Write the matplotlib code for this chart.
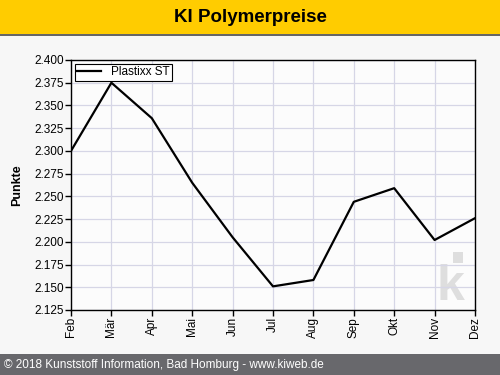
import matplotlib
matplotlib.use('Agg')
import matplotlib.pyplot as plt
from matplotlib.patches import Rectangle

# data
months = ['Feb', 'Mär', 'Apr', 'Mai', 'Jun', 'Jul', 'Aug', 'Sep', 'Okt', 'Nov', 'Dez']
plastixx_st = [2.300, 2.375, 2.336, 2.265, 2.205, 2.151, 2.158, 2.244, 2.259, 2.202, 2.226]
yticks = [2.125, 2.150, 2.175, 2.200, 2.225, 2.250, 2.275, 2.300, 2.325, 2.350, 2.375, 2.400]

plt.rcParams['font.family'] = ['Liberation Sans', 'DejaVu Sans']

fig = plt.figure(figsize=(5, 3.75), dpi=100, facecolor='#f7f7f7')

# header and footer bars
fig.patches.append(Rectangle((0, 1 - 34/375), 1, 34/375, transform=fig.transFigure,
                             facecolor='#ffcc00', edgecolor='none', zorder=0))
fig.patches.append(Rectangle((0, 1 - 36/375), 1, 2/375, transform=fig.transFigure,
                             facecolor='#666666', edgecolor='none', zorder=0))
fig.patches.append(Rectangle((0, 0), 1, 21/375, transform=fig.transFigure,
                             facecolor='#68686c', edgecolor='none', zorder=0))
fig.text(0.5, 1 - 17/375, 'KI Polymerpreise', ha='center', va='center',
         fontsize=13.5, fontweight='bold', color='black')
fig.text(0.008, 10/375, '\u00a9 2018 Kunststoff Information, Bad Homburg - www.kiweb.de',
         ha='left', va='center', fontsize=8.5, color='white')

ax = fig.add_axes([71/500, 65/375, 404/500, 250/375])
ax.set_facecolor('#fcfcfc')
x = list(range(len(months)))
ax.plot(x, plastixx_st, color='black', lw=1.6, label='Plastixx ST', zorder=3)

ax.set_xlim(0, len(months) - 1)
ax.set_ylim(2.125, 2.400)
ax.set_xticks(x)
ax.set_xticklabels(months, rotation=90, fontsize=8.5)
ax.set_yticks(yticks)
ax.set_yticklabels(['%.3f' % v for v in yticks], fontsize=8.5)
ax.tick_params(direction='out', length=4, width=1, colors='black', pad=1)
ax.grid(True, color='#d6d6e6', lw=0.9, zorder=0)
for s in ax.spines.values():
    s.set_linewidth(1)
ax.set_ylabel('Punkte', fontsize=9, fontweight='bold', labelpad=8)

# watermark logo
ax.text(0.94, 0.04, 'k', transform=ax.transAxes, fontsize=36, fontweight='bold',
        color='#dedede', ha='center', va='baseline', zorder=1)
ax.add_patch(Rectangle((0.946, 0.19), 0.024, 0.044, transform=ax.transAxes,
                       facecolor='#dedede', edgecolor='none', zorder=1))

leg = ax.legend(loc='upper left', fontsize=8.5, frameon=True, fancybox=False,
                edgecolor='black', framealpha=1, borderpad=0.25, handlelength=2.0,
                borderaxespad=0.3)
leg.get_frame().set_linewidth(0.8)

fig.savefig('out.png', dpi=100, facecolor=fig.get_facecolor())
